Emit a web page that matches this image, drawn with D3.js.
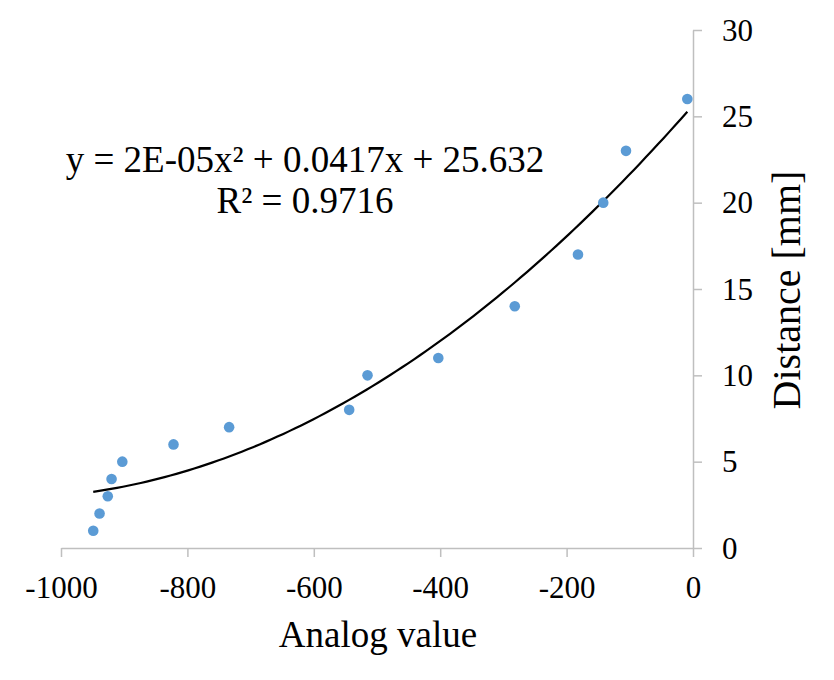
<!DOCTYPE html>
<html>
<head>
<meta charset="utf-8">
<script src="https://cdn.jsdelivr.net/npm/d3@7"></script>
<style>
  body { margin: 0; background: #fff; }
  svg { display: block; font-family: "Liberation Serif", "Times New Roman", serif; }
  svg text { font-family: "Liberation Serif", "Times New Roman", serif; }
</style>
</head>
<body>
<svg id="chart" width="834" height="680"></svg>
<script>
const analogValues = [-949, -939, -926, -920, -903, -822, -734, -544, -515, -403, -282, -182, -142, -106, -9];
const distances    = [1, 2, 3, 4, 5, 6, 7, 8, 10, 11, 14, 17, 20, 23, 26];
const xTicks = [-1000, -800, -600, -400, -200, 0];
const yTicks = [0, 5, 10, 15, 20, 25, 30];
const equationLines = ["y = 2E-05x² + 0.0417x + 25.632", "R² = 0.9716"];

const points = analogValues.map((x, i) => ({ x, y: distances[i] }));

const svg = d3.select("#chart");
const fontFamily = "Liberation Serif, Times New Roman, serif";

// scales: x axis runs -1000..0, y axis sits on the right at x = 0
const x = d3.scaleLinear().domain([-1000, 0]).range([61, 693]);
const y = d3.scaleLinear().domain([0, 30]).range([548, 30]);

const axisColor = "#bfbfbf";

// x axis
const xAxis = svg.append("g")
  .attr("transform", `translate(0,${y(0)})`)
  .call(d3.axisBottom(x)
    .tickValues(xTicks)
    .tickSize(9)
    .tickSizeOuter(0)
    .tickFormat(d => String(d)))
  .attr("font-family", fontFamily)
  .attr("font-size", 31);

xAxis.select(".domain").attr("stroke", axisColor).attr("stroke-width", 1.5);
xAxis.selectAll(".tick line").attr("stroke", axisColor).attr("stroke-width", 1.5);
xAxis.selectAll(".tick text")
  .attr("y", 50)
  .attr("dy", 0)
  .attr("fill", "#000");

// y axis (right side, at x = 0)
const yAxis = svg.append("g")
  .attr("transform", `translate(${x(0)},0)`)
  .call(d3.axisRight(y)
    .tickValues(yTicks)
    .tickSize(9)
    .tickSizeOuter(0)
    .tickPadding(20))
  .attr("font-family", fontFamily)
  .attr("font-size", 31);

yAxis.select(".domain").attr("stroke", axisColor).attr("stroke-width", 1.5);
yAxis.selectAll(".tick line").attr("stroke", axisColor).attr("stroke-width", 1.5);
yAxis.selectAll(".tick text")
  .attr("dy", "0.33em")
  .attr("fill", "#000");

// axis titles
svg.append("text")
  .attr("x", 378)
  .attr("y", 647)
  .attr("text-anchor", "middle")
  .style("font-size", "37px")
  .text("Analog value");

svg.append("text")
  .attr("transform", `translate(800,290) rotate(-90)`)
  .attr("text-anchor", "middle")
  .style("font-size", "40px")
  .text("Distance [mm]");

// polynomial (order 2) trendline, least squares fit of the points
function quadFit(pts) {
  const s = k => d3.sum(pts, p => Math.pow(p.x, k));
  const t = k => d3.sum(pts, p => Math.pow(p.x, k) * p.y);
  const A = [[s(4), s(3), s(2)], [s(3), s(2), s(1)], [s(2), s(1), pts.length]];
  const B = [t(2), t(1), t(0)];
  // gaussian elimination
  for (let i = 0; i < 3; i++) {
    for (let j = i + 1; j < 3; j++) {
      const f = A[j][i] / A[i][i];
      for (let k = i; k < 3; k++) A[j][k] -= f * A[i][k];
      B[j] -= f * B[i];
    }
  }
  const c = [0, 0, 0];
  for (let i = 2; i >= 0; i--) {
    let v = B[i];
    for (let k = i + 1; k < 3; k++) v -= A[i][k] * c[k];
    c[i] = v / A[i][i];
  }
  return c;
}

const [ca, cb, cc] = quadFit(points);
const xMin = d3.min(analogValues), xMax = d3.max(analogValues);
const trend = d3.range(0, 101).map(i => {
  const xv = xMin + (xMax - xMin) * i / 100;
  return [xv, ca * xv * xv + cb * xv + cc];
});

svg.append("path")
  .attr("d", d3.line().x(d => x(d[0])).y(d => y(d[1]))(trend))
  .attr("fill", "none")
  .attr("stroke", "#000")
  .attr("stroke-width", 2.2);

// scatter points
svg.selectAll("circle.pt")
  .data(points)
  .join("circle")
  .attr("class", "pt")
  .attr("cx", d => x(d.x))
  .attr("cy", d => y(d.y))
  .attr("r", 5.3)
  .attr("fill", "#5b9bd5");

// equation label
svg.selectAll("text.eq")
  .data(equationLines)
  .join("text")
  .attr("class", "eq")
  .attr("x", 305)
  .attr("y", (d, i) => 172 + i * 41)
  .attr("text-anchor", "middle")
  .style("font-size", "37px")
  .text(d => d);
</script>
</body>
</html>
